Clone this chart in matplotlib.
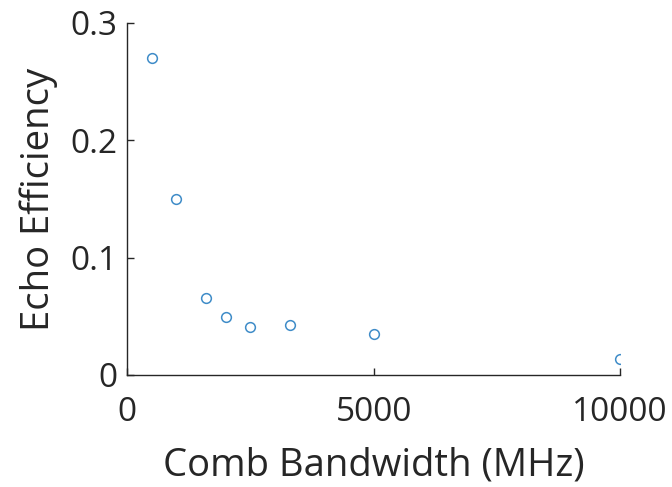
import matplotlib
matplotlib.use("Agg")
import matplotlib.pyplot as plt

bandwidth_mhz = [500, 1000, 1600, 2000, 2500, 3300, 5000, 10000]
echo_efficiency = [0.270, 0.150, 0.066, 0.049, 0.041, 0.043, 0.035, 0.014]
x_ticks = [0, 5000, 10000]
y_ticks = [0, 0.1, 0.2, 0.3]
y_tick_labels = ["0", "0.1", "0.2", "0.3"]

plt.rcParams['font.family'] = ['Open Sans', 'DejaVu Sans']
text_color = '#262626'

fig = plt.figure(figsize=(6.72, 4.87), dpi=100)
ax = fig.add_axes([0.189, 0.23, 0.734, 0.723])

ax.plot(bandwidth_mhz, echo_efficiency, linestyle='none', marker='o',
        markersize=7, markerfacecolor='none', markeredgecolor='#3F8CC8',
        markeredgewidth=1.1)

ax.set_xlim(0, 10000)
ax.set_ylim(0, 0.3)
ax.set_xticks(x_ticks)
ax.set_xticklabels([str(t) for t in x_ticks])
ax.set_yticks(y_ticks)
ax.set_yticklabels(y_tick_labels)

for side in ('top', 'right'):
    ax.spines[side].set_visible(False)
for side in ('left', 'bottom'):
    ax.spines[side].set_color(text_color)
    ax.spines[side].set_linewidth(1.0)

ax.tick_params(direction='in', length=5, width=1.0, colors=text_color,
               labelsize=24)
ax.tick_params(axis='y', pad=7)
ax.tick_params(axis='x', pad=15)

ax.set_xlabel('Comb Bandwidth (MHz)', fontsize=27.5, color=text_color, labelpad=13)
ax.set_ylabel('Echo Efficiency', fontsize=27.5, color=text_color, labelpad=9)

fig.savefig('out.png', dpi=100)
